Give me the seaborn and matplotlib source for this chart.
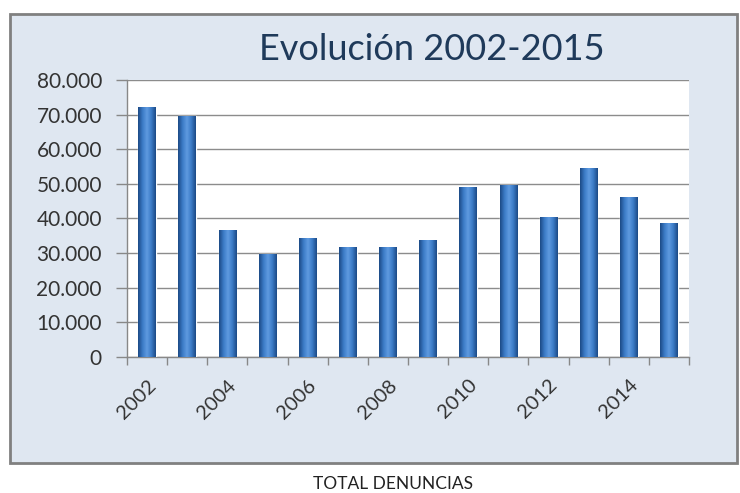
import numpy as np
import pandas as pd
import matplotlib
matplotlib.use("Agg")
import matplotlib.pyplot as plt
import matplotlib.transforms as mtransforms
import seaborn as sns
from matplotlib.patches import Rectangle
from matplotlib.ticker import FuncFormatter
from matplotlib.colors import LinearSegmentedColormap

# data
years = [str(y) for y in range(2002, 2016)]
denuncias = [72300, 69500, 36700, 29800, 34400, 31800, 31800,
             33900, 49100, 49800, 40500, 54600, 46200, 38800]
shown_labels = ["2002", "2004", "2006", "2008", "2010", "2012", "2014"]

df = pd.DataFrame({"year": years, "total": denuncias})

sns.set_theme(style="white")
plt.rcParams["font.family"] = ["Lato", "DejaVu Sans"]

fig = plt.figure(figsize=(7.4, 4.93), dpi=100)
fig.patch.set_facecolor("white")

# outer chart frame, drawn behind everything
frame = Rectangle((10 / 740, 30 / 493), 727 / 740, 449 / 493,
                  transform=fig.transFigure, facecolor="#dfe7f1",
                  edgecolor="#808080", linewidth=2, zorder=-10)
fig.patches.append(frame)

ax = fig.add_axes([0.1716, 0.2759, 0.7595, 0.5619])
ax.set_facecolor("white")

sns.barplot(data=df, x="year", y="total", color="#3a78c0", width=0.44,
            saturation=1, ax=ax, zorder=3)

# cylinder style shading on each bar
cmap = LinearSegmentedColormap.from_list(
    "cyl", ["#1c4a86", "#3b7bc6", "#5f9ae0", "#3b7bc6", "#1c4a86"])
grad = np.linspace(0, 1, 64).reshape(1, -1)
for p in ax.patches:
    x0, y0 = p.get_x(), p.get_y()
    w, h = p.get_width(), p.get_height()
    im = ax.imshow(grad, cmap=cmap, aspect="auto",
                   extent=[x0, x0 + w, y0, y0 + h], zorder=4)
    im.set_clip_path(p)

ax.set_xlim(-0.5, len(years) - 0.5)
ax.set_ylim(0, 80000)
ax.set_yticks(np.arange(0, 80001, 10000))
ax.yaxis.set_major_formatter(FuncFormatter(lambda v, _: f"{int(v):,}".replace(",", ".")))
ax.grid(axis="y", color="#8c8c8c", linewidth=1, zorder=1)
ax.set_axisbelow(True)

# category boundary ticks, labels every other year
ax.set_xticks([years.index(y) for y in shown_labels])
ax.set_xticklabels(shown_labels, rotation=45, ha="right",
                   rotation_mode="anchor", fontsize=14.5, color="#333333")
shift = mtransforms.ScaledTranslation(6 / 72, 0, fig.dpi_scale_trans)
for lab in ax.get_xticklabels():
    lab.set_transform(lab.get_transform() + shift)
ax.set_xticks(np.arange(-0.5, len(years)), minor=True)
ax.tick_params(axis="x", which="major", length=0, pad=14)
ax.tick_params(axis="x", which="minor", length=6, width=1,
               color="#888888", direction="out", bottom=True)
ax.tick_params(axis="y", length=8, width=1, color="#888888",
               direction="out", left=True, labelsize=15,
               labelcolor="#333333", pad=10)

for side in ["top", "right"]:
    ax.spines[side].set_visible(False)
for side in ["left", "bottom"]:
    ax.spines[side].set_color("#888888")
    ax.spines[side].set_linewidth(1)

ax.set_xlabel("")
ax.set_ylabel("")

fig.text(0.584, 0.899, "Evolución 2002-2015", ha="center", va="center",
         fontsize=26, color="#1f3a5a")
fig.text(393 / 740, 0.018, "TOTAL DENUNCIAS", ha="center", va="center",
         fontsize=12.5, color="#222222")

fig.savefig("out.png", dpi=100)
